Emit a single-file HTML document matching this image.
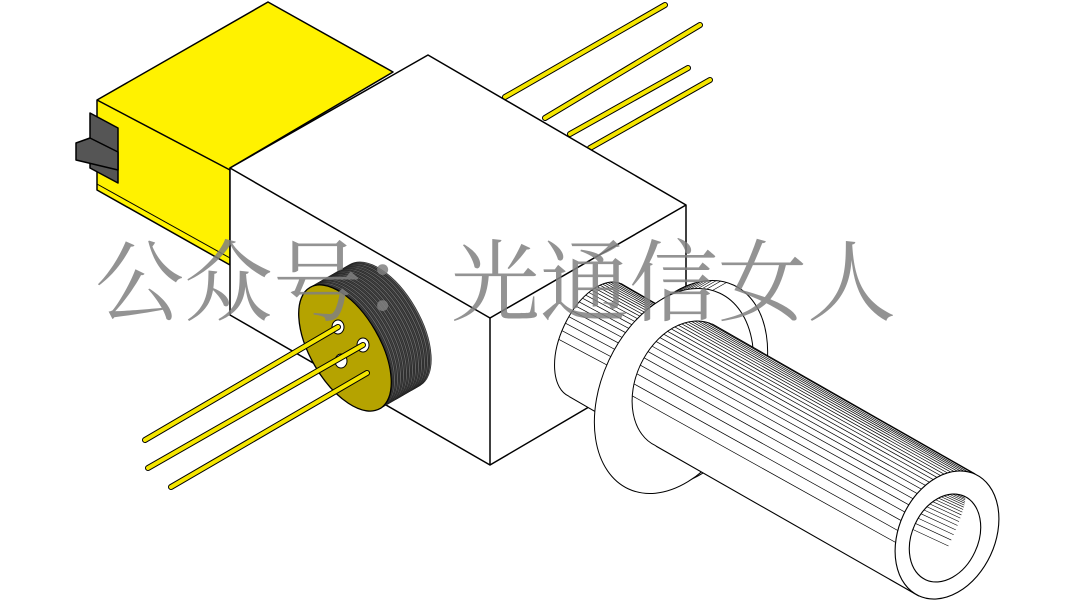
<!DOCTYPE html>
<html><head><meta charset="utf-8"><style>
html,body{margin:0;padding:0;background:#fff;width:1080px;height:608px;overflow:hidden}
svg{display:block}
</style></head><body>
<svg id="s" width="1080" height="608" viewBox="0 0 1080 608" xmlns="http://www.w3.org/2000/svg">
<g stroke="#000" stroke-width="1.5" stroke-linejoin="round">
<g stroke-linecap="round">
<line x1="505" y1="97" x2="665" y2="5" stroke="#000" stroke-width="6"/>
<line x1="505" y1="97" x2="665" y2="5" stroke="#f5e600" stroke-width="4"/>
<line x1="545" y1="118" x2="700" y2="25" stroke="#000" stroke-width="6"/>
<line x1="545" y1="118" x2="700" y2="25" stroke="#f5e600" stroke-width="4"/>
<line x1="570" y1="134" x2="688" y2="68" stroke="#000" stroke-width="6"/>
<line x1="570" y1="134" x2="688" y2="68" stroke="#f5e600" stroke-width="4"/>
<line x1="590" y1="148" x2="710" y2="80" stroke="#000" stroke-width="6"/>
<line x1="590" y1="148" x2="710" y2="80" stroke="#f5e600" stroke-width="4"/>
</g>
<polygon points="97,100 268,2 393,72 230,168 230,265 97,190" fill="#fff200"/>
<line x1="97" y1="100" x2="230" y2="170"/>
<line x1="97" y1="184" x2="230" y2="258" stroke-width="1"/>
<polygon points="90,113 118,128 118,183 90,168" fill="#555"/>
<polygon points="76,143 90,138 118,152 118,170 76,160" fill="#555"/>
<polygon points="230,168 428,55 686,205 686,350 490,465 230,315" fill="#fff"/>
<polyline points="230,168 490,318 686,205" fill="none"/>
<line x1="490" y1="318" x2="490" y2="465"/>
</g>
<g id="disk"></g>
<g id="cyl"></g>
<text x="95" y="314" font-family="'Liberation Serif','Noto Serif CJK SC',serif" font-size="89" fill="#808080" fill-opacity="0.85">公众号：光通信女人</text>
</svg>
<script>
var NS="http://www.w3.org/2000/svg";
function el(p,t,a){var e=document.createElementNS(NS,t);for(var k in a)e.setAttribute(k,a[k]);p.appendChild(e);return e;}
var d=document.getElementById("disk");
// disk rim: stacked ellipses
for(var i=40;i>=0;i-=1.5){var cx=345+i,cy=348-i*0.575;
el(d,"ellipse",{cx:cx,cy:cy,rx:35,ry:70,transform:"rotate(-30 "+cx+" "+cy+")",fill:(Math.floor(i/1.5)%2?"#444":"#666"),stroke:"#222","stroke-width":0.6});}
el(d,"ellipse",{cx:345,cy:348,rx:35,ry:70,transform:"rotate(-30 345 348)",fill:"#b5a300",stroke:"#000","stroke-width":1.3});
[[338,327],[363,345],[341,361]].forEach(function(p){el(d,"ellipse",{cx:p[0],cy:p[1],rx:6,ry:7,fill:"#fff",stroke:"#000","stroke-width":1});});
[[338,327,145,440],[363,345,148,468],[367,373,171,487]].forEach(function(p){
el(d,"line",{x1:p[0],y1:p[1],x2:p[2],y2:p[3],stroke:"#000","stroke-width":6,"stroke-linecap":"round"});
el(d,"line",{x1:p[0],y1:p[1],x2:p[2],y2:p[3],stroke:"#f5e600","stroke-width":4,"stroke-linecap":"round"});});

var c=document.getElementById("cyl");
var u=[0.906,0.42], m=[0.42,-0.91];
function cylinder(S,E,a,b,ts){
 // body polygon
 var p1=[S[0]+m[0]*b,S[1]+m[1]*b],p2=[E[0]+m[0]*b,E[1]+m[1]*b],p3=[E[0]-m[0]*b,E[1]-m[1]*b],p4=[S[0]-m[0]*b,S[1]-m[1]*b];
 el(c,"ellipse",{cx:S[0],cy:S[1],rx:a,ry:b,transform:"rotate(25 "+S[0]+" "+S[1]+")",fill:"#fff",stroke:"#000","stroke-width":1});
 el(c,"polygon",{points:[p1,p2,p3,p4].join(" "),fill:"#fff",stroke:"none"});
 el(c,"line",{x1:p1[0],y1:p1[1],x2:p2[0],y2:p2[1],stroke:"#000","stroke-width":1.1});
 el(c,"line",{x1:p4[0],y1:p4[1],x2:p3[0],y2:p3[1],stroke:"#000","stroke-width":1.1});
 ts.forEach(function(t){var s=Math.sqrt(Math.max(0,1-(t/b)*(t/b)));
  var x1=S[0]+m[0]*t-u[0]*a*s,y1=S[1]+m[1]*t-u[1]*a*s;
  var x2=E[0]+m[0]*t,y2=E[1]+m[1]*t;
  el(c,"line",{x1:x1,y1:y1,x2:x2,y2:y2,stroke:"#000","stroke-width":0.7});});
}
function hatchT(b,lo){var r=[];var t=b-0.5,st=1.2;while(t>lo){r.push(t);t-=st;st*=1.12;}return r;}
// small back cylinder
cylinder([595,340],[640,366],34,62,hatchT(62,-20));
// flanges
el(c,"ellipse",{cx:688,cy:383,rx:72,ry:108,transform:"rotate(25 688 383)",fill:"#fff",stroke:"#000","stroke-width":1});
(function(){var S=[674,391],b=108,a=72;var ts=hatchT(b,20);ts.forEach(function(t){var s=Math.sqrt(Math.max(0,1-(t/b)*(t/b)));
el(c,"line",{x1:S[0]+m[0]*t-u[0]*a*s,y1:S[1]+m[1]*t-u[1]*a*s,x2:S[0]+14+m[0]*t-u[0]*a*s,y2:S[1]-8+m[1]*t-u[1]*a*s,stroke:"#000","stroke-width":0.6});});})();
el(c,"ellipse",{cx:674,cy:391,rx:72,ry:108,transform:"rotate(25 674 391)",fill:"#fff",stroke:"#000","stroke-width":1});
// main tube
cylinder([684,385],[947,535],48,67,hatchT(67,-40));
el(c,"ellipse",{cx:947,cy:535,rx:48,ry:67,transform:"rotate(25 947 535)",fill:"#fff",stroke:"#000","stroke-width":1.1});
el(c,"ellipse",{cx:945,cy:538,rx:33,ry:46,transform:"rotate(25 945 538)",fill:"#fff",stroke:"#000","stroke-width":1.1});
// inner hatching
(function(){var C=[945,538],a=33,b=46;hatchT(b,-10).forEach(function(t){var s=Math.sqrt(Math.max(0,1-(t/b)*(t/b)));
var x=C[0]+m[0]*t,y=C[1]+m[1]*t;
// chord inside: from back edge visible region
var x1=x-u[0]*a*s,y1=y-u[1]*a*s,x2=x+u[0]*a*s*0.2,y2=y+u[1]*a*s*0.2;
if(t<0){}el(c,"line",{x1:x1,y1:y1,x2:x2,y2:y2,stroke:"#000","stroke-width":0.6});});})();
</script>
</body></html>
